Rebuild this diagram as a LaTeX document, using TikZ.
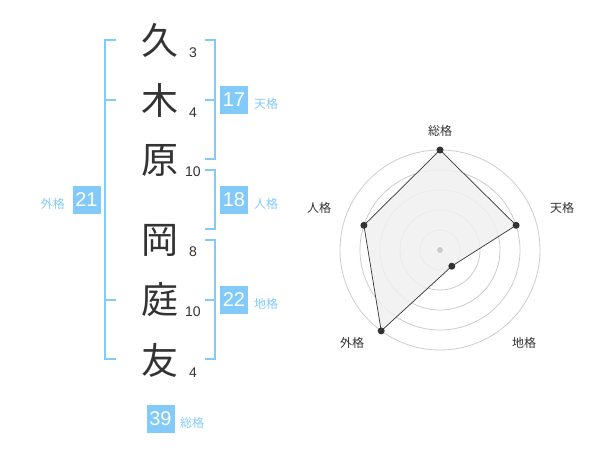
\documentclass[tikz,border=0pt]{standalone}
\usepackage{fontspec}
\setmainfont{Liberation Sans}
\newfontfamily\jp{Noto Sans CJK JP}
\definecolor{kblue}{HTML}{82CAFA}
\definecolor{ktext}{HTML}{333333}
\definecolor{kgrid}{HTML}{CCCCCC}
\definecolor{kfill}{HTML}{F0F0F0}
\begin{document}
\begin{tikzpicture}[x=1pt,y=-1pt,
  kanji/.style={inner sep=0pt,text=ktext,font=\jp\fontsize{37}{37}\selectfont},
  snum/.style={inner sep=0pt,text=ktext,font=\fontsize{14}{14}\selectfont},
  numbox/.style={fill=kblue,text=white,minimum size=28pt,inner sep=0pt,font=\fontsize{20}{20}\selectfont},
  klabel/.style={inner sep=0pt,text=kblue,font=\jp\fontsize{12}{12}\selectfont},
  rlabel/.style={inner sep=0pt,text=ktext,font=\jp\fontsize{12}{12}\selectfont},
  brk/.style={draw=kblue,line width=2pt},
  grid/.style={draw=kgrid,line width=0.8pt},
  dot/.style={circle,fill=ktext,inner sep=0pt,minimum size=7pt}]
\useasboundingbox (0,0) rectangle (600,470);
% kanji
\node[kanji] (k1) at (160,40) {久};
\node[kanji] (k2) at (160,100) {木};
\node[kanji] (k3) at (160,160) {原};
\node[kanji] (k4) at (160,240) {岡};
\node[kanji] (k5) at (160,300) {庭};
\node[kanji] (k6) at (160,360) {友};
% stroke counts
\node[snum] (s1) at (193,53) {3};
\node[snum] (s2) at (193,113) {4};
\node[snum] (s3) at (193,172) {10};
\node[snum] (s4) at (193,252) {8};
\node[snum] (s5) at (193,312) {10};
\node[snum] (s6) at (193,373) {4};
% brackets
\draw[brk] (116,40) -- (105,40) -- (105,359) -- (116,359);
\draw[brk] (105,100) -- (116,100);
\draw[brk] (105,300) -- (116,300);
\draw[brk] (205,40) -- (215,40) -- (215,159) -- (205,159);
\draw[brk] (205,100) -- (215,100);
\draw[brk] (205,170) -- (215,170) -- (215,229) -- (205,229);
\draw[brk] (205,240) -- (215,240) -- (215,359) -- (205,359);
\draw[brk] (205,300) -- (215,300);
% boxes
\node[numbox] (b17) at (234,100) {17};
\node[klabel,anchor=west] (l17) at (254,104) {天格};
\node[numbox] (b18) at (234,200) {18};
\node[klabel,anchor=west] (l18) at (254,204) {人格};
\node[numbox] (b22) at (234,300) {22};
\node[klabel,anchor=west] (l22) at (254,304) {地格};
\node[numbox] (b21) at (86.5,200) {21};
\node[klabel,anchor=east] (l21) at (65,204) {外格};
\node[numbox] (b39) at (160.5,419) {39};
\node[klabel,anchor=west] (l39) at (180,423) {総格};
% radar
\foreach \r in {20,40,60,80,100} \draw[grid] (440,250) circle[radius=\r];
\coordinate (pS) at (440,150);
\coordinate (pT) at (516.1,225.3);
\coordinate (pC) at (451.8,266.2);
\coordinate (pG) at (381.2,330.9);
\coordinate (pJ) at (363.9,225.3);
\fill[kfill,fill opacity=0.85] (pS) -- (pT) -- (pC) -- (pG) -- (pJ) -- cycle;
\draw[ktext,line width=0.7pt] (pS) -- (pT) -- (pC) -- (pG) -- (pJ) -- cycle;
\node[circle,fill=kgrid,inner sep=0pt,minimum size=6pt] (ctr) at (440,250) {};
\foreach \p in {pS,pT,pC,pG,pJ} \node[dot] at (\p) {};
\node[rlabel] (rS) at (440,131) {総格};
\node[rlabel] (rT) at (562,208) {天格};
\node[rlabel] (rJ) at (319,208) {人格};
\node[rlabel] (rG) at (352,343) {外格};
\node[rlabel] (rC) at (524,343) {地格};
\end{tikzpicture}
\end{document}
